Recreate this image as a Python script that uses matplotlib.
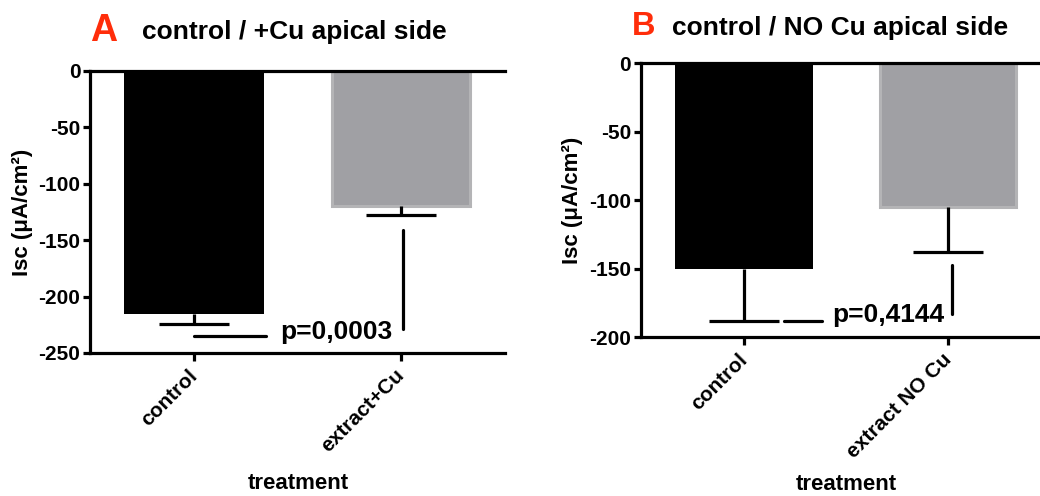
import matplotlib
matplotlib.use("Agg")
import matplotlib.pyplot as plt

plt.rcParams['font.family'] = ['Liberation Sans', 'DejaVu Sans']
plt.rcParams['font.weight'] = 'bold'

# Panel A: control vs extract with Cu
cats_a = ["control", "extract+Cu"]
mean_a = [-215, -120]
sem_a = [9, 8]
p_a = "p=0,0003"

# Panel B: control vs extract without Cu
cats_b = ["control", "extract NO Cu"]
mean_b = [-150, -105]
sem_b = [38, 33]
p_b = "p=0,4144"

ticks_a = [0, -50, -100, -150, -200, -250]
ticks_b = [0, -50, -100, -150, -200]

BLACK = "#000000"
GREY = "#a0a0a4"
GREY_EDGE = "#b4b4b6"
RED = "#ff2d0a"
LW = 2.3

fig = plt.figure(figsize=(10.4, 4.96), dpi=100)
ax_a = fig.add_axes([90 / 1040, 1 - 353 / 496, 415 / 1040, 282 / 496])
ax_b = fig.add_axes([640.7 / 1040, 1 - 337.3 / 496, 399.3 / 1040, 274 / 496])


def draw_panel(ax, cats, means, sems, yticks, xlim):
    x = list(range(len(cats)))
    ax.bar(x[0], means[0], width=0.68, color=BLACK, edgecolor=BLACK, linewidth=0, zorder=2)
    ax.bar(x[1], means[1], width=0.665, color=GREY, edgecolor=GREY_EDGE, linewidth=2.2, zorder=2)
    # one-sided error bars, pointing away from zero, capped only at the far end
    lows = [m - s for m, s in zip(means, sems)]
    ax.vlines(x, means, lows, colors=BLACK, linewidth=LW, zorder=3)
    ax.plot(x, lows, linestyle="none", marker="_", markersize=51,
            markeredgewidth=LW, color=BLACK, zorder=3)
    ax.set_xlim(*xlim)
    ax.set_ylim(min(yticks), 0)
    ax.set_yticks(yticks)
    ax.set_yticklabels([str(t) for t in yticks])
    ax.set_xticks(x)
    ax.set_xticklabels(cats, rotation=45, ha="right", va="center",
                       rotation_mode="anchor", fontsize=15, fontweight="bold")
    for side in ("top", "bottom", "left"):
        ax.spines[side].set_linewidth(LW)
        ax.spines[side].set_zorder(5)
    ax.spines["right"].set_visible(False)
    ax.tick_params(axis="y", length=5, width=LW, pad=2, labelsize=15)
    ax.tick_params(axis="x", length=6, width=LW, pad=8)
    for lab in ax.get_yticklabels():
        lab.set_fontweight("bold")
    ax.set_ylabel("Isc (μA/cm²)", fontsize=16, fontweight="bold")
    ax.set_xlabel("treatment", fontsize=16, fontweight="bold")
    ax.xaxis.label.set_va("center")


draw_panel(ax_a, cats_a, mean_a, sem_a, ticks_a, (-0.502, 1.502))
draw_panel(ax_b, cats_b, mean_b, sem_b, ticks_b, (-0.506, 1.449))

ax_a.yaxis.set_label_coords(-0.137, 0.5)
ax_b.yaxis.set_label_coords(-0.1445, 0.5)
ax_a.xaxis.set_label_coords(0.501, -0.461)
ax_b.xaxis.set_label_coords(0.516, -0.539)

# significance annotations
ax_a.plot([0, 0.346], [-235, -235], color=BLACK, lw=LW, solid_capstyle="round", zorder=3)
ax_a.plot([1.01, 1.01], [-141, -229], color=BLACK, lw=LW, solid_capstyle="round", zorder=3)
ax_a.text(0.415, -231, p_a, fontsize=19, fontweight="bold", ha="left", va="center")

ax_b.plot([0.197, 0.38], [-188, -188], color=BLACK, lw=LW, solid_capstyle="round", zorder=3)
ax_b.plot([1.02, 1.02], [-147, -183], color=BLACK, lw=LW, solid_capstyle="round", zorder=3)
ax_b.text(0.43, -184, p_b, fontsize=19, fontweight="bold", ha="left", va="center")

# panel letters and titles
fig.text(90 / 1040, 1 - 41 / 496, "A", color=RED, fontsize=27, fontweight="bold",
         ha="left", va="baseline")
fig.text(142 / 1040, 1 - 38.5 / 496, "control / +Cu apical side", fontsize=19,
         fontweight="bold", ha="left", va="baseline")
fig.text(631.7 / 1040, 1 - 35 / 496, "B", color=RED, fontsize=23.5, fontweight="bold",
         ha="left", va="baseline")
fig.text(671.7 / 1040, 1 - 35 / 496, "control / NO Cu apical side", fontsize=19,
         fontweight="bold", ha="left", va="baseline")

fig.savefig("out.png", dpi=100)
